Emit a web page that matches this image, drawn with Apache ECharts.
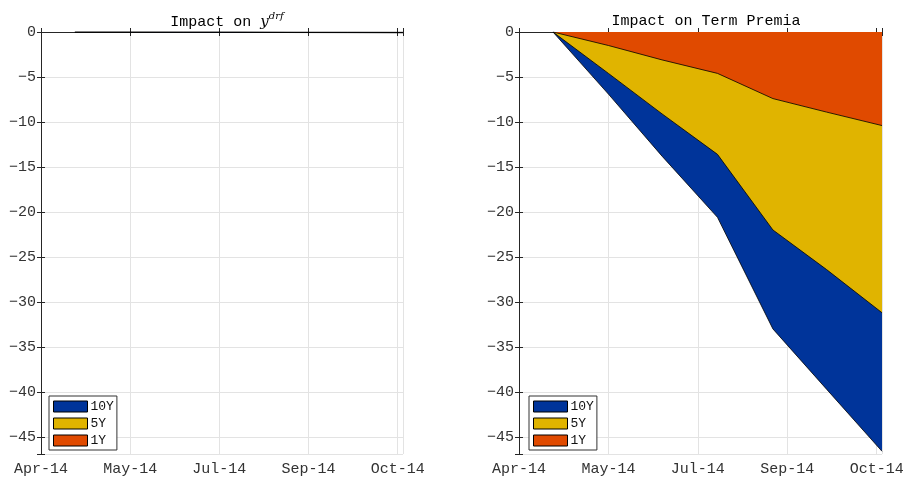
<!DOCTYPE html>
<html>
<head>
<meta charset="utf-8">
<script src="https://cdn.jsdelivr.net/npm/echarts@6/dist/echarts.min.js"></script>
<style>
  html, body { margin: 0; padding: 0; background: #fff; }
  #chart { width: 909px; height: 481px; }
</style>
</head>
<body>
<div id="chart"></div>
<script>
// month-end observation dates
const dates = ['2014-04-30', '2014-05-31', '2014-06-30', '2014-07-31', '2014-08-31', '2014-09-30', '2014-10-31'];
const tickLabels = ['Apr-14', 'May-14', 'Jul-14', 'Sep-14', 'Oct-14'];
const seriesNames = ['10Y', '5Y', '1Y'];

// impact on y^drf (basically zero)
const drf1Y = [0, 0, 0, 0, -0.01, -0.01, -0.02];
const drf5Y = [0, 0, -0.01, -0.01, -0.02, -0.03, -0.03];
const drf10Y = [0, -0.01, -0.01, -0.02, -0.03, -0.03, -0.04];

// impact on term premia
const tp1Y = [0, -1.5, -3.1, -4.6, -7.4, -8.9, -10.4];
const tp5Y = [0, -3.1, -6.0, -9.0, -14.6, -17.5, -20.8];
const tp10Y = [0, -2.3, -4.7, -7.0, -11.0, -13.3, -15.4];

const colors = { '10Y': '#00349a', '5Y': '#e0b400', '1Y': '#e04a00' };
const font = '"Liberation Mono", "DejaVu Sans Mono", monospace';
const axisColor = '#262626';

// x in days from the first tick date
const t0 = Date.UTC(2014, 3, 11);
const days = dates.map((d) => {
  const p = d.split('-');
  return (Date.UTC(+p[0], +p[1] - 1, +p[2]) - t0) / 86400000;
});

const chart = echarts.init(document.getElementById('chart'));

function xAxisPair(grid) {
  const base = {
    type: 'value',
    gridIndex: grid,
    min: 0,
    max: 203,
    interval: 50,
    axisLine: { show: true, lineStyle: { color: axisColor, width: 1 } },
    axisTick: { show: true, inside: true, length: 4, lineStyle: { color: axisColor } },
  };
  return [
    Object.assign({}, base, {
      position: 'bottom',
      axisLabel: {
        show: true,
        margin: 8,
        color: '#333',
        fontFamily: font,
        fontSize: 15,
        formatter: (v) => (v % 50 === 0 ? tickLabels[v / 50] || '' : ''),
      },
      splitLine: { show: true, lineStyle: { color: '#e3e3e3', width: 1 } },
    }),
    Object.assign({}, base, {
      position: 'top',
      axisLabel: { show: false },
      splitLine: { show: false },
    }),
  ];
}

function yAxisPair(grid) {
  // inverse axis so ticks count from 0 downwards
  const base = {
    type: 'value',
    gridIndex: grid,
    inverse: true,
    min: 0,
    max: 46.9,
    interval: 5,
    axisLine: { show: true, lineStyle: { color: axisColor, width: 1 } },
    axisTick: { show: true, inside: true, length: 4, lineStyle: { color: axisColor } },
  };
  return [
    Object.assign({}, base, {
      position: 'left',
      axisLabel: {
        show: true,
        margin: 5,
        color: '#333',
        fontFamily: font,
        fontSize: 15,
        formatter: (v) => (v % 5 === 0 ? (v === 0 ? '0' : '\u2212' + v) : ''),
      },
      splitLine: { show: true, lineStyle: { color: '#e3e3e3', width: 1 } },
    }),
    Object.assign({}, base, {
      position: 'right',
      axisLabel: { show: false },
      splitLine: { show: false },
    }),
  ];
}

// stacked areas: each layer is the running sum, drawn deepest first and filled to 0
function areaSeries(name, cum, grid) {
  return {
    name: name,
    type: 'line',
    xAxisIndex: grid * 2,
    yAxisIndex: grid * 2,
    data: days.map((d, i) => [d, -cum[i]]),
    symbol: 'none',
    color: colors[name],
    lineStyle: { color: '#000', width: 0.8 },
    areaStyle: { color: colors[name], opacity: 1, origin: 'start' },
    silent: true,
    emphasis: { disabled: true },
  };
}

function panelSeries(a1, a5, a10, grid) {
  const c1 = a1.slice();
  const c5 = a5.map((v, i) => v + c1[i]);
  const c10 = a10.map((v, i) => v + c5[i]);
  return [
    areaSeries('10Y', c10, grid),
    areaSeries('5Y', c5, grid),
    areaSeries('1Y', c1, grid),
  ];
}

function legendAt(left) {
  return {
    orient: 'vertical',
    left: left,
    top: 396,
    padding: [4, 3, 3, 4],
    itemWidth: 34,
    itemHeight: 11,
    itemGap: 4,
    backgroundColor: '#fff',
    borderColor: '#333',
    borderWidth: 1,
    borderRadius: 0,
    selectedMode: false,
    textStyle: { fontFamily: font, fontSize: 13, color: '#111', lineHeight: 11, padding: [0, 0, 0, -2] },
    data: seriesNames.map((n) => ({
      name: n,
      icon: 'rect',
      itemStyle: { color: colors[n], borderColor: '#000', borderWidth: 1 },
    })),
  };
}

const titleStyle = {
  fontFamily: font,
  fontSize: 15,
  fontWeight: 'normal',
  color: '#000',
  rich: {
    i: { fontFamily: '"DejaVu Serif", "Liberation Serif", serif', fontStyle: 'italic', fontSize: 15, lineHeight: 22 },
    s: { fontFamily: '"DejaVu Serif", "Liberation Serif", serif', fontStyle: 'italic', fontSize: 10, lineHeight: 22, verticalAlign: 'top', padding: [0, 0, 8, 0] },
  },
};

chart.setOption({
  animation: false,
  backgroundColor: '#fff',
  title: [
    { text: 'Impact on {i|y}{s|drf}', left: 222, top: 6, textAlign: 'center', textStyle: titleStyle },
    { text: 'Impact on Term Premia', left: 701, top: 9, textAlign: 'center', textStyle: titleStyle },
  ],
  grid: [
    { left: 41, top: 32, width: 362, height: 422 },
    { left: 519, top: 32, width: 363, height: 422 },
  ],
  xAxis: xAxisPair(0).concat(xAxisPair(1)),
  yAxis: yAxisPair(0).concat(yAxisPair(1)),
  legend: [legendAt(49), legendAt(529)],
  series: panelSeries(drf1Y, drf5Y, drf10Y, 0).concat(panelSeries(tp1Y, tp5Y, tp10Y, 1)),
});
</script>
</body>
</html>
